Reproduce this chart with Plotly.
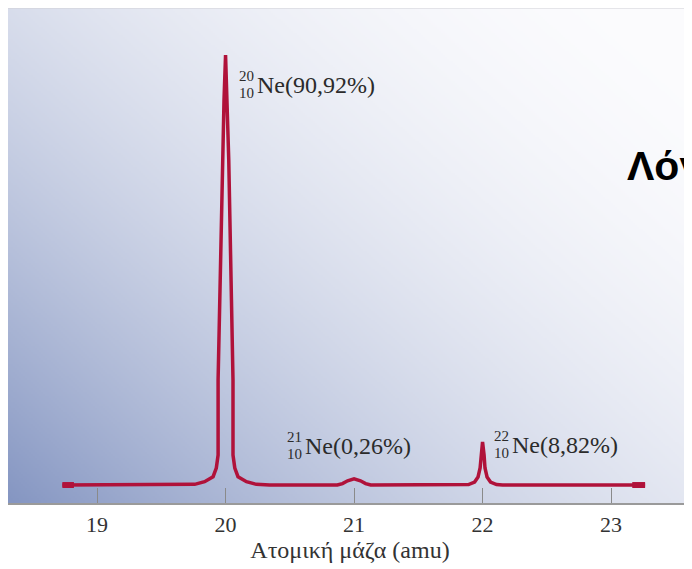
import base64
import struct
import zlib

import numpy as np
import plotly.graph_objects as go

# ---------------- data ----------------
mass_amu = [18.73, 19.658, 19.760, 19.837, 19.903, 19.928, 19.942, 19.942, 19.954, 19.975, 19.988,
            20.0,
            20.012, 20.025, 20.046, 20.058, 20.058, 20.072, 20.097, 20.163, 20.240, 20.342,
            20.87, 20.91, 20.95, 21.0, 21.05, 21.09, 21.13,
            21.844, 21.891, 21.938, 21.965, 21.981, 21.988,
            22.0,
            22.012, 22.019, 22.035, 22.062, 22.109, 22.156,
            23.265]
signal = [0, 0, 0.15, 0.70, 1.76, 3.59, 6.34, 22.2, 39.1, 68.7, 81.4,
          90.9,
          81.4, 68.7, 39.1, 22.2, 6.34, 3.59, 1.76, 0.70, 0.15, 0,
          0, 0.3, 0.9, 1.3, 0.9, 0.3, 0,
          0, 0.1, 0.63, 1.7, 3.6, 6.3,
          9.1,
          6.3, 3.6, 1.7, 0.63, 0.1, 0,
          0]

isotope_mass = [20, 21, 22]
isotope_label = ["Ne(90,92%)", "Ne(0,26%)", "Ne(8,82%)"]
mass_number = ["20", "21", "22"]
atomic_number = ["10", "10", "10"]

tick_values = [19, 20, 21, 22, 23]
tick_labels = ["19", "20", "21", "22", "23"]
x_title = "Ατομική μάζα (amu)"
side_title = "Λόγος"

# ---------------- style ----------------
LINE = "#B0123A"
TXT = "#2b2b2b"
SERIF = "Liberation Serif"

# label placement (offsets relative to each peak, style only)
label_dx = [0.23, -0.397, 0.214]
label_y = [84.6, 8.25, 8.46]
sup_dy = 1.9
sub_dy = -1.7


def gradient_png(w, h):
    xn = np.linspace(0, 1, w)[None, :]
    yn = np.linspace(0, 1, h)[:, None]
    d = np.clip(((1 - xn) * 0.55 + yn * 0.45) ** 2, 0, 1)
    dark = np.array([133, 150, 194], dtype=float)
    white = np.array([252, 252, 254], dtype=float)
    img = white[None, None, :] * (1 - d[..., None]) + dark[None, None, :] * d[..., None]
    img = np.clip(img, 0, 255).astype(np.uint8)
    raw = b"".join(b"\x00" + img[j].tobytes() for j in range(h))

    def chunk(t, data):
        c = struct.pack(">I", len(data)) + t + data
        return c + struct.pack(">I", zlib.crc32(t + data) & 0xFFFFFFFF)

    png = (b"\x89PNG\r\n\x1a\n"
           + chunk(b"IHDR", struct.pack(">IIBBBBB", w, h, 8, 2, 0, 0, 0))
           + chunk(b"IDAT", zlib.compress(raw, 9))
           + chunk(b"IEND", b""))
    return "data:image/png;base64," + base64.b64encode(png).decode()


fig = go.Figure()
fig.add_trace(go.Scatter(x=mass_amu, y=signal, mode="lines",
                         line=dict(color=LINE, width=3.5), hoverinfo="skip",
                         showlegend=False))
# thicker end caps of the trace
fig.add_trace(go.Scatter(x=[mass_amu[0], mass_amu[0] + 0.09], y=[signal[0], signal[0]],
                         mode="lines", line=dict(color=LINE, width=6), hoverinfo="skip",
                         showlegend=False))
fig.add_trace(go.Scatter(x=[mass_amu[-1] - 0.1, mass_amu[-1]], y=[signal[-1], signal[-1]],
                         mode="lines", line=dict(color=LINE, width=6), hoverinfo="skip",
                         showlegend=False))

annotations = []
for m, lab, A, Z, dx, ly in zip(isotope_mass, isotope_label, mass_number, atomic_number,
                                label_dx, label_y):
    annotations.append(dict(x=m + dx, y=ly, text=lab, showarrow=False, xanchor="left",
                            yanchor="middle", font=dict(family=SERIF, size=24, color=TXT)))
    annotations.append(dict(x=m + dx + 0.005, y=ly + sup_dy, text=A, showarrow=False,
                            xanchor="right", yanchor="middle",
                            font=dict(family=SERIF, size=15, color=TXT)))
    annotations.append(dict(x=m + dx + 0.005, y=ly + sub_dy, text=Z, showarrow=False,
                            xanchor="right", yanchor="middle",
                            font=dict(family=SERIF, size=15, color=TXT)))

annotations.append(dict(x=0.902, y=0.681, xref="paper", yref="paper", text="<b>" + side_title + "</b>",
                        showarrow=False, xanchor="left", yanchor="middle",
                        font=dict(family="Liberation Sans", size=41, color="#000000")))

fig.update_layout(
    width=684, height=561,
    margin=dict(l=0, r=0, t=0, b=66),
    paper_bgcolor="white",
    plot_bgcolor="rgba(0,0,0,0)",
    images=[dict(source=gradient_png(342, 248), xref="paper", yref="paper", x=0, y=1,
                 sizex=1, sizey=1, sizing="stretch", layer="below",
                 xanchor="left", yanchor="top")],
    xaxis=dict(range=[18.307, 23.63], tickvals=tick_values, ticktext=tick_labels,
               ticks="inside", ticklen=15, tickwidth=1, tickcolor="#8a8a8a",
               showline=True, linecolor="#9a9a9a", linewidth=1.5,
               showgrid=False, zeroline=False,
               tickfont=dict(family=SERIF, size=22, color="#333333"),
               ticklabelstandoff=1,
               title=dict(text=x_title, font=dict(family=SERIF, size=24, color="#333333"),
                          standoff=4)),
    yaxis=dict(range=[-3.8, 100.85], showticklabels=False, ticks="", showgrid=False,
               zeroline=False, showline=True, linecolor="#c2c2ca", linewidth=1),
    shapes=[dict(type="line", xref="paper", yref="paper", x0=0, x1=1, y0=1, y1=1,
                 line=dict(color="#d0d0d6", width=1))],
    annotations=annotations,
)

fig.write_html("out.html")
